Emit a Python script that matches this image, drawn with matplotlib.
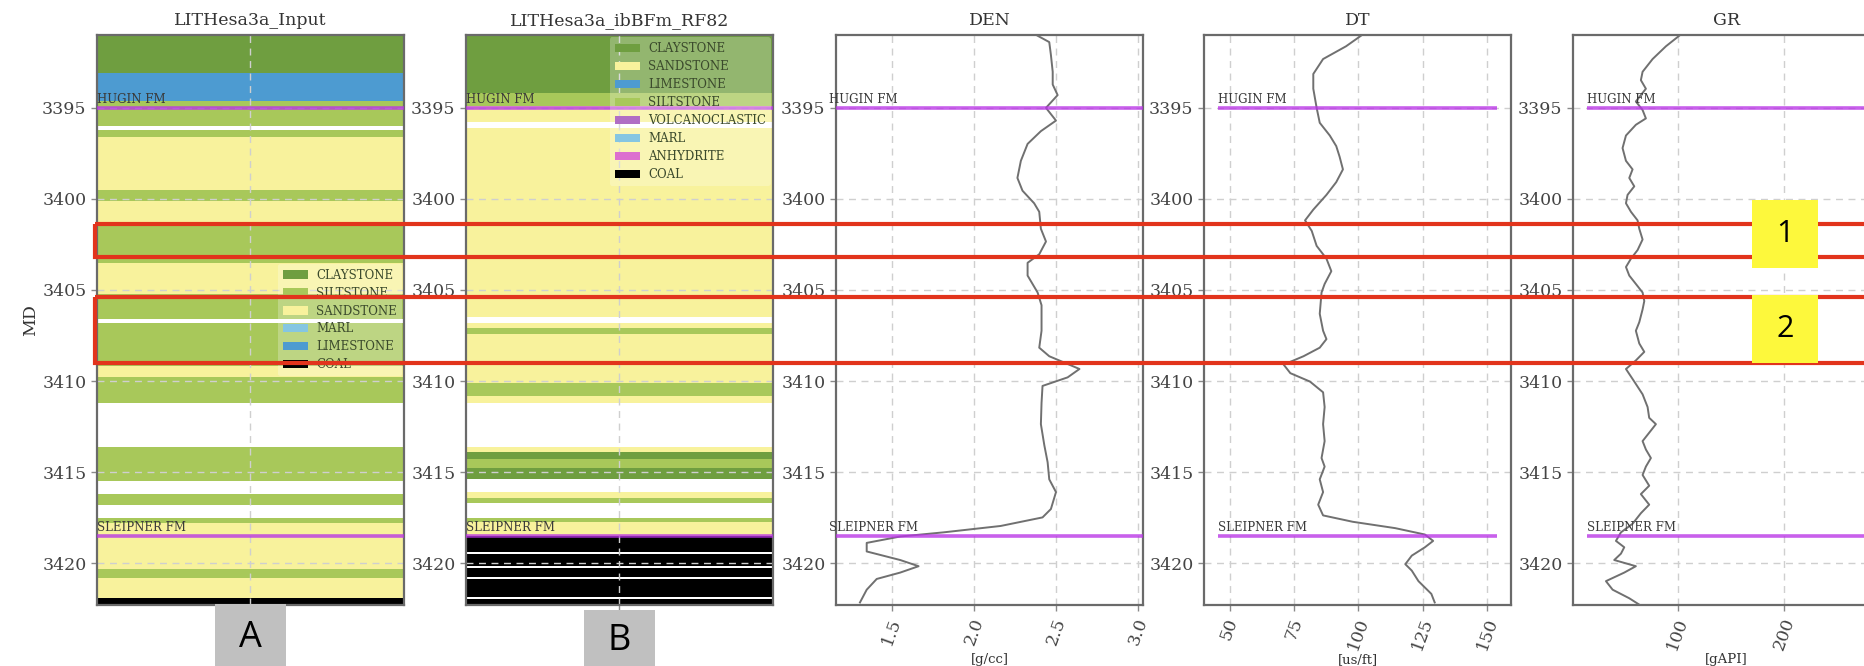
"""Well-log panel: lithology columns next to DEN, DT and GR curves."""

import matplotlib.pyplot as plt
from matplotlib.patches import Patch, Rectangle
from matplotlib.transforms import blended_transform_factory

W, H = 1865, 666

DEPTH_TOP, DEPTH_BASE = 3391.0, 3422.3
DEPTH_TICKS = [3395, 3400, 3405, 3410, 3415, 3420]

FM_NAMES = ["HUGIN FM", "SLEIPNER FM"]
FM_DEPTHS = [3395.0, 3418.5]

# input lithology log (top, base, class)
INPUT_TOPS = [3391.0, 3393.1, 3394.6, 3395.1, 3396.2, 3396.6, 3399.5, 3400.1, 3401.3,
              3403.5, 3405.2, 3406.8, 3409.2, 3409.8, 3413.6, 3416.2, 3417.5, 3417.8,
              3420.3, 3420.8, 3421.9]
INPUT_BASES = [3393.1, 3394.6, 3395.1, 3396.0, 3396.6, 3399.5, 3400.1, 3401.3, 3403.5,
               3405.2, 3406.6, 3409.2, 3409.8, 3411.2, 3415.5, 3416.8, 3417.8, 3420.3,
               3420.8, 3421.9, 3422.3]
INPUT_LITHS = ["CLAYSTONE", "LIMESTONE", "SILTSTONE", "SILTSTONE", "SILTSTONE", "SANDSTONE",
               "SILTSTONE", "SANDSTONE", "SILTSTONE", "SANDSTONE", "SILTSTONE", "SILTSTONE",
               "SANDSTONE", "SILTSTONE", "SILTSTONE", "SILTSTONE", "SILTSTONE", "SANDSTONE",
               "SILTSTONE", "SANDSTONE", "COAL"]
INPUT_LEGEND = ["CLAYSTONE", "SILTSTONE", "SANDSTONE", "MARL", "LIMESTONE", "COAL"]

# random-forest prediction
RF_TOPS = [3391.0, 3394.2, 3394.9, 3396.1, 3406.8, 3407.1, 3407.4, 3410.1, 3410.8,
           3413.6, 3413.9, 3414.3, 3414.8, 3416.1, 3416.4, 3417.5, 3417.75, 3418.5,
           3419.5, 3420.25, 3420.85, 3421.95]
RF_BASES = [3394.2, 3394.9, 3395.8, 3406.5, 3407.1, 3407.4, 3410.1, 3410.8, 3411.2,
            3413.9, 3414.3, 3414.8, 3415.4, 3416.4, 3416.7, 3417.75, 3418.5, 3419.4,
            3420.15, 3420.75, 3421.85, 3422.3]
RF_LITHS = ["CLAYSTONE", "SILTSTONE", "SANDSTONE", "SANDSTONE", "SANDSTONE", "SILTSTONE",
            "SANDSTONE", "SILTSTONE", "SANDSTONE", "SANDSTONE", "CLAYSTONE", "SILTSTONE",
            "CLAYSTONE", "SANDSTONE", "SILTSTONE", "SILTSTONE", "SANDSTONE", "COAL",
            "COAL", "COAL", "COAL", "COAL"]
RF_LEGEND = ["CLAYSTONE", "SANDSTONE", "LIMESTONE", "SILTSTONE", "VOLCANOCLASTIC",
             "MARL", "ANHYDRITE", "COAL"]

DEN_DEPTH = [3391.04, 3391.39, 3392.09, 3393.02, 3393.72, 3394.30, 3395.00, 3395.70,
             3396.28, 3396.98, 3397.91, 3398.85, 3399.55, 3400.24, 3400.71, 3401.64,
             3402.34, 3403.04, 3403.51, 3404.21, 3405.14, 3405.84, 3407.24, 3408.17,
             3408.64, 3409.34, 3409.80, 3410.27, 3411.20, 3412.37, 3413.53, 3414.46,
             3415.40, 3416.10, 3417.03, 3417.49, 3417.96, 3418.31, 3418.54, 3418.89,
             3419.36, 3419.83, 3420.17, 3420.52, 3420.87, 3421.46, 3422.16]
DEN = [2.388, 2.459, 2.469, 2.480, 2.480, 2.510, 2.439, 2.500, 2.408, 2.327, 2.286,
       2.265, 2.296, 2.367, 2.398, 2.408, 2.439, 2.398, 2.327, 2.327, 2.388, 2.412,
       2.412, 2.398, 2.459, 2.643, 2.571, 2.418, 2.412, 2.408, 2.429, 2.449, 2.459,
       2.500, 2.469, 2.418, 2.163, 1.816, 1.551, 1.347, 1.347, 1.551, 1.663, 1.551,
       1.408, 1.347, 1.306]

DT_DEPTH = [3391.04, 3391.62, 3392.32, 3393.14, 3393.95, 3395.00, 3395.82, 3396.52,
            3397.10, 3397.68, 3398.38, 3399.08, 3399.78, 3400.59, 3401.18, 3401.76,
            3402.58, 3403.28, 3403.97, 3404.67, 3405.14, 3406.31, 3407.24, 3407.70,
            3408.17, 3408.64, 3409.10, 3409.57, 3410.03, 3410.62, 3411.43, 3412.37,
            3413.30, 3414.23, 3414.70, 3415.40, 3416.10, 3416.79, 3417.38, 3417.73,
            3418.08, 3418.43, 3418.78, 3419.13, 3419.59, 3420.06, 3420.41, 3420.99,
            3421.69, 3422.16]
DT = [101.0, 95.2, 86.3, 82.5, 82.5, 83.8, 85.0, 88.9, 91.4, 92.7, 94.0, 91.4, 87.6,
      82.5, 79.3, 81.9, 83.8, 87.6, 89.5, 86.9, 85.7, 85.0, 86.3, 87.6, 85.0, 78.7,
      71.0, 73.6, 81.2, 86.3, 86.9, 86.3, 86.9, 85.7, 86.9, 85.0, 86.3, 84.4, 86.3,
      97.8, 114.3, 125.8, 129.0, 125.8, 120.7, 118.2, 120.7, 123.3, 128.3, 129.6]

GR_DEPTH = [3391.04, 3391.62, 3392.32, 3393.02, 3393.48, 3393.95, 3394.30, 3394.65,
            3395.12, 3395.58, 3395.93, 3396.52, 3397.21, 3397.91, 3398.38, 3398.85,
            3399.31, 3399.78, 3400.24, 3400.71, 3401.18, 3401.64, 3402.23, 3402.81,
            3403.28, 3403.74, 3404.21, 3404.67, 3405.14, 3405.61, 3406.07, 3406.77,
            3407.24, 3407.94, 3408.40, 3408.87, 3409.34, 3410.03, 3410.73, 3411.43,
            3412.02, 3412.37, 3412.84, 3413.30, 3413.76, 3414.23, 3414.70, 3415.16,
            3415.75, 3416.21, 3416.79, 3417.26, 3417.84, 3418.31, 3418.78, 3419.13,
            3419.48, 3419.83, 3420.17, 3420.52, 3420.99, 3421.46, 3421.93, 3422.28]
GR = [101.6, 89.1, 76.6, 67.2, 65.6, 70.3, 65.6, 60.9, 67.2, 70.3, 60.9, 51.6, 48.4,
      51.6, 57.8, 54.7, 59.4, 53.1, 51.6, 56.3, 62.5, 64.1, 67.2, 62.5, 56.3, 51.6,
      54.7, 60.9, 67.2, 68.8, 67.2, 64.1, 60.9, 64.1, 68.8, 60.9, 51.6, 59.4, 67.2,
      71.9, 73.4, 79.7, 73.4, 67.2, 70.3, 75.0, 70.3, 67.2, 73.4, 65.6, 73.4, 65.6,
      57.8, 46.9, 42.2, 50.0, 46.9, 40.6, 60.9, 50.0, 32.8, 39.1, 54.7, 64.1]

# highlighted intervals and their tags
HIGHLIGHT_TOPS = [3401.4, 3405.4]
HIGHLIGHT_BASES = [3403.2, 3409.0]
TAG_TOPS = [3400.05, 3405.26]
TAG_BASES = [3403.8, 3409.0]
TAG_TEXT = ["1", "2"]

LITH_COLORS = {
    "CLAYSTONE": "#6f9e40",
    "SANDSTONE": "#f8f29c",
    "LIMESTONE": "#4d9bd1",
    "SILTSTONE": "#a8c85a",
    "VOLCANOCLASTIC": "#b06ec4",
    "MARL": "#85c6e2",
    "ANHYDRITE": "#dc70cf",
    "COAL": "#000000",
}
FM_COLOR = "#b933e6"
CURVE_COLOR = "#707070"

plt.rcParams["font.family"] = ["DejaVu Serif"]


def px(x, y=None):
    if y is None:
        return x / W
    return x / W, 1 - y / H


def style_track(ax, title):
    ax.set_ylim(DEPTH_BASE, DEPTH_TOP)
    ax.set_yticks(DEPTH_TICKS)
    ax.set_title(title, fontsize=12.5, color="#333333", pad=7)
    ax.grid(True, linestyle=(0, (5, 4)), color="#cfcfcf", linewidth=1.0)
    for spine in ax.spines.values():
        spine.set_color("#6a6a6a")
        spine.set_linewidth(1.6)
    ax.tick_params(colors="#444444", labelsize=12.5, length=4, width=1, color="#8a8a8a")


def add_formations(ax, x0, x1):
    for name, depth in zip(FM_NAMES, FM_DEPTHS):
        ax.plot([x0, x1], [depth, depth], color=FM_COLOR, lw=2.6, alpha=0.78,
                solid_capstyle="butt", zorder=3)
        ax.text(x0, depth - 0.08, name, fontsize=8.5, color="#3a3a3a", ha="left",
                va="bottom", clip_on=False, zorder=4)


def lith_track(ax, tops, bases, liths, title, legend_names, loc):
    for top, base, lith in zip(tops, bases, liths):
        ax.axhspan(top, base, color=LITH_COLORS[lith], lw=0, zorder=1)
    ax.set_xlim(0, 1)
    ax.set_xticks([0.5])
    ax.set_xticklabels([])
    style_track(ax, title)
    add_formations(ax, 0, 1)
    handles = [Patch(facecolor=LITH_COLORS[n], label=n) for n in legend_names]
    leg = ax.legend(handles=handles, loc=loc, fontsize=8.5, framealpha=0.25,
                    edgecolor="none", handlelength=2.1, handleheight=0.7,
                    labelspacing=0.42, borderaxespad=0.2, handletextpad=0.7,
                    labelcolor="#3b4a2c")
    leg.set_zorder(5)


def curve_track(ax, values, depth, title, unit, xlim, xticks, fm_span):
    ax.plot(values, depth, color=CURVE_COLOR, lw=1.4, zorder=3)
    ax.set_xlim(*xlim)
    ax.set_xticks(xticks)
    style_track(ax, title)
    ax.tick_params(axis="x", labelrotation=70)
    ax.set_xlabel(unit, fontsize=9.5, color="#333333")
    ax.xaxis.set_label_coords(0.5, -(653 - 605) / 570)
    add_formations(ax, *fm_span)


fig = plt.figure(figsize=(W / 100, H / 100), dpi=100)
lefts = [97, 466, 836, 1204, 1573]
axes = [fig.add_axes([px(x), px(0, 605)[1], px(307), 570 / H]) for x in lefts]

lith_track(axes[0], INPUT_TOPS, INPUT_BASES, INPUT_LITHS, "LITHesa3a_Input",
           INPUT_LEGEND, "center right")
axes[0].set_ylabel("MD", fontsize=12.5, color="#333333", labelpad=2)
lith_track(axes[1], RF_TOPS, RF_BASES, RF_LITHS, "LITHesa3a_ibBFm_RF82",
           RF_LEGEND, "upper right")

curve_track(axes[2], DEN, DEN_DEPTH, "DEN", "[g/cc]", (1.16, 3.03),
            [1.5, 2.0, 2.5, 3.0], (1.12, 3.1))
curve_track(axes[3], DT, DT_DEPTH, "DT", "[us/ft]", (40.1, 159.2),
            [50, 75, 100, 125, 150], (45.5, 153.8))
curve_track(axes[4], GR, GR_DEPTH, "GR", "[gAPI]", (1.9, 290),
            [100, 200], (15, 277))

# highlight frames across all tracks, tied to depth on the first track
band = blended_transform_factory(fig.transFigure, axes[0].transData)
for top, base in zip(HIGHLIGHT_TOPS, HIGHLIGHT_BASES):
    fig.add_artist(Rectangle((px(95), top), 1.02 - px(95), base - top, transform=band,
                             fill=False, edgecolor="#e2341c", lw=3.0, zorder=10))
for top, base, tag in zip(TAG_TOPS, TAG_BASES, TAG_TEXT):
    fig.add_artist(Rectangle((px(1752), top), px(66), base - top, transform=band,
                             facecolor="#fdf83c", edgecolor="none", zorder=11))
    fig.text(px(1785), (top + base) / 2, tag, transform=band, fontsize=22,
             family="Open Sans", ha="center", va="center", zorder=12)

# panel tags under the lithology columns
for ax, tag, top in zip(axes[:2], ["A", "B"], [604, 610]):
    tr = blended_transform_factory(ax.transAxes, fig.transFigure)
    half = 71 / 307 / 2
    fig.add_artist(Rectangle((0.5 - half, 0), 2 * half, (H - top) / H, transform=tr,
                             facecolor="#c0c0c0", edgecolor="none", zorder=10))
    fig.text(0.5, (H - top) / H / 2 - 0.005, tag, transform=tr, fontsize=26,
             family="Open Sans", ha="center", va="center", zorder=12)

fig.savefig("out.png", dpi=100)
